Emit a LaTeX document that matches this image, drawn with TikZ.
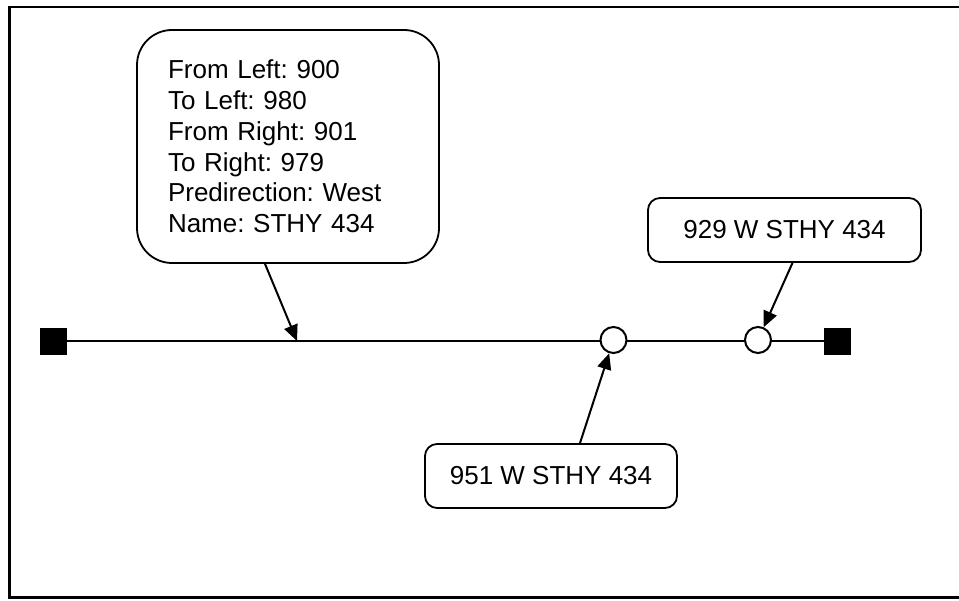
\documentclass[tikz,border=0pt]{standalone}
\usepackage{fontspec}
\setmainfont{Liberation Sans}
\usetikzlibrary{arrows.meta}
\frenchspacing
\begin{document}
\begin{tikzpicture}[x=1pt,y=-1pt,
  every node/.style={font=\fontsize{26}{30.8}\selectfont},
  bigbox/.style={draw,line width=1.8pt,rounded corners=35pt,fill=white},
  smallbox/.style={draw,line width=1.8pt,rounded corners=12pt,fill=white,minimum height=64pt,inner sep=0pt},
  endsq/.style={fill=black,draw=none,minimum size=27pt,inner sep=0pt},
  addr/.style={circle,draw,line width=2pt,fill=white,minimum size=26pt,inner sep=0pt},
  road/.style={line width=2pt},
  ptr/.style={line width=2pt,-{Triangle[length=16pt,width=14pt]}}]
\useasboundingbox (0,0) rectangle (959,601);
% frame (right side lies outside the picture)
\draw[line width=2.5pt] (959,7) -- (9.5,7) -- (9.5,597.5) -- (959,597.5);
% road
\node[endsq] (sqL) at (53,341.5) {};
\node[endsq] (sqR) at (837.5,341.5) {};
\draw[road] (sqL.center) -- (sqR.center);
\node[addr] (c1) at (613.5,340) {};
\node[addr] (c2) at (758,340) {};
\coordinate (p1) at (297,341);
% labels
\node[bigbox,minimum width=302pt,minimum height=233pt,text width=240pt,inner xsep=31pt,inner ysep=0pt,align=left] (info) at (288,146.5)
  {From Left: 900\\To Left: 980\\From Right: 901\\To Right: 979\\Predirection: West\\Name: STHY 434};
\node[smallbox,minimum width=252pt] (b951) at (551,476) {951 W STHY 434};
\node[smallbox,minimum width=273pt] (b929) at (784.5,230) {929 W STHY 434};
% pointers
\draw[ptr] ([xshift=-23pt]info.south) -- (p1);
\draw[ptr] ([xshift=29pt]b951.north) -- (c1);
\draw[ptr] ([xshift=8pt]b929.south) -- (c2);
\end{tikzpicture}
\end{document}
